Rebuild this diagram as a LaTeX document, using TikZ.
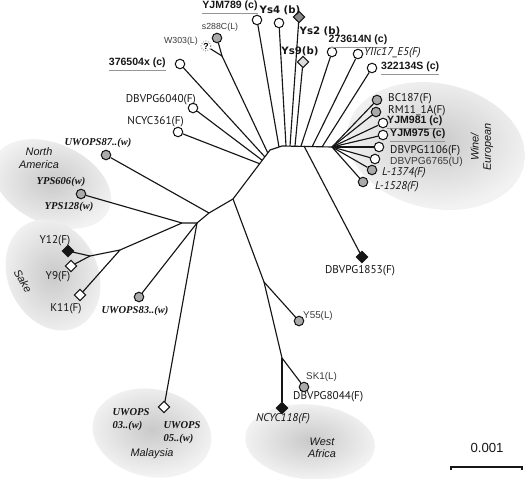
\documentclass[tikz,border=0pt]{standalone}
\usepackage{fontspec}
\setmainfont{Liberation Sans}
\newfontfamily\wildfont{Liberation Serif}
\newfontfamily\fermfont{PT Sans}
\newfontfamily\heavyfont{DejaVu Sans}
\usetikzlibrary{shapes.geometric,calc}
\definecolor{ink}{HTML}{161616}
\definecolor{leafGray}{HTML}{AAAAAA}
\definecolor{ysDark}{HTML}{8A8A8A}
\definecolor{ysLight}{HTML}{DCDCDC}
\newcommand{\accn}[1]{\textcolor{ink!45}{\underline{\textcolor{ink}{#1}}}}
\tikzset{
  leaf/.style={circle, draw=ink, line width=0.6pt, minimum size=1.9mm, inner sep=0pt, fill=white},
  gleaf/.style={leaf, fill=leafGray},
  gem/.style={diamond, draw=ink, line width=0.6pt, minimum size=2.3mm, inner sep=0pt, fill=white},
  lblC/.style={font=\fontsize{6}{7}\selectfont\bfseries, text=ink, inner sep=0.5pt},
  lblB/.style={font=\heavyfont\fontsize{5.8}{7}\selectfont\bfseries, text=ink, inner sep=0.5pt},
  lblF/.style={font=\fermfont\fontsize{6.4}{7.5}\selectfont, text=ink, inner sep=0.5pt},
  lblL/.style={font=\fontsize{5}{6}\selectfont, text=ink!85, inner sep=0.5pt},
  lblW/.style={font=\wildfont\fontsize{6}{7.5}\selectfont\bfseries\itshape, text=ink, inner sep=0.5pt, align=left},
}

\begin{document}
\begin{tikzpicture}[x=0.2mm, y=-0.2mm,
  br/.style={ink, line width=0.65pt},
  zone/.style={ellipse, inner sep=0pt, inner color=black!21, outer color=black!5},
  ztxt/.style={font=\fontsize{6.2}{7}\selectfont\itshape, text=ink, align=center, inner sep=0.5pt}]
\useasboundingbox (0,0) rectangle (525,479);
\node[zone, minimum width=36mm, minimum height=25mm, rotate=-12] (wine) at (436,146) {};
\node[zone, minimum width=25mm, minimum height=16mm, rotate=-25] (namer) at (52,184) {};
\node[zone, minimum width=18mm, minimum height=23mm, rotate=25] (sake) at (53,275) {};
\node[zone, minimum width=24mm, minimum height=17.5mm, rotate=-12] (malay) at (152,433) {};
\node[zone, minimum width=26mm, minimum height=15mm, rotate=-5] (wafr) at (310,442) {};
\node[ztxt, rotate=90] (tWine) at (482,147) {Wine/\\European};
\node[ztxt] (tNamer) at (39,158) {North\\America};
\node[ztxt, rotate=-60] (tSake) at (23,281) {Sake};
\node[ztxt] (tMalay) at (152,454) {Malaysia};
\node[ztxt] (tWafr) at (322,448) {West\\Africa};

\coordinate (hubL) at (270,150);
\coordinate (hubT) at (282,146);
\coordinate (hubW) at (332,147);
\coordinate (jD) at (233,199);
\coordinate (jC) at (209,213);
\coordinate (jB) at (197,223);
\coordinate (jA) at (182,223);
\coordinate (jF) at (120,250);
\coordinate (jE) at (90,256);
\coordinate (jS) at (222,56);
\coordinate (jG) at (264,282);
\coordinate (jH) at (282,358);
\coordinate (bS) at ($(hubL)!0.06!(jD)$);
\coordinate (b376) at ($(hubL)!0.14!(jD)$);
\coordinate (b6040) at ($(hubL)!0.21!(jD)$);
\coordinate (b361) at ($(hubL)!0.28!(jD)$);
\coordinate (b789) at (279,147);
\coordinate (bYs4) at (286,146);
\coordinate (bYs2) at (290,146);
\coordinate (bYs9) at (295,146);
\coordinate (b2736) at (301,146);
\coordinate (b1853) at (304,146);
\coordinate (bYIIc) at (312,147);
\coordinate (b3221) at (322,147);

% leaves
\node[leaf] (yjm789) at (257,20) {};
\node[leaf] (ys4) at (279,23) {};
\node[gem, fill=ysDark] (ys2) at (299,17) {};
\node[gem, fill=ysLight] (ys9) at (303,62) {};
\node[leaf] (n273614) at (332,52) {};
\node[leaf] (yiic) at (358,54) {};
\node[leaf] (n322134) at (372,68) {};
\node[gleaf] (bc187) at (377,100) {};
\node[gleaf] (rm11) at (376,112) {};
\node[leaf] (yjm981) at (383,123) {};
\node[leaf] (yjm975) at (383,135) {};
\node[leaf] (dbv1106) at (379,147) {};
\node[leaf] (dbv6765) at (375,159) {};
\node[gleaf] (l1374) at (372,170) {};
\node[gleaf] (l1528) at (363,182) {};
\node[gem, fill=ink] (dbv1853) at (362,257) {};
\node[gleaf] (s288c) at (217,38) {};
\node[circle, draw=ink!80, densely dotted, fill=white, minimum size=2mm, inner sep=0pt,
  font=\fontsize{5}{5}\selectfont\bfseries] (w303) at (206,46) {?};
\node[leaf] (n376504) at (180,64) {};
\node[leaf] (dbv6040) at (193,108) {};
\node[leaf] (ncyc361) at (178,132) {};
\node[gleaf] (uwops87) at (106,155) {};
\node[gleaf] (yps) at (81,194) {};
\node[gem, fill=ink] (y12) at (68,251) {};
\node[gem] (y9) at (71,266) {};
\node[gem] (k11) at (80,295) {};
\node[gleaf] (uwops83) at (139,297) {};
\node[gem] (uwopsMy) at (164,407) {};
\node[gleaf] (y55) at (299,321) {};
\node[gleaf] (sk1) at (304,387) {};
\node[gem, fill=ink] (ncyc118) at (282,408) {};

% labels
\node[lblC] (tYJM789) at (230,8) {\accn{YJM789 (c)}};
\node[lblB] (tYs4) at (280,10) {Ys4 (b)};
\node[lblB] (tYs2) at (320,31) {Ys2 (b)};
\node[lblB] (tYs9) at (300,51) {Ys9(b)};
\node[lblC] (t273614) at (358,42) {\accn{273614N (c)}};
\node[lblF, anchor=west] (tYIIc) at (363,53) {\itshape YIIc17\_E5(F)};
\node[lblC, anchor=west] (t322134) at (380,69) {\accn{322134S (c)}};
\node[lblF, anchor=west] (tBC187) at (387,99) {BC187(F)};
\node[lblF, anchor=west] (tRM11) at (387,111) {RM11\_1A(F)};
\node[lblC, anchor=west] (tYJM981) at (386,123) {\accn{YJM981 (c)}};
\node[lblC, anchor=west] (tYJM975) at (389,136) {\accn{YJM975 (c)}};
\node[lblF, anchor=west] (t1106) at (389,151) {DBVPG1106(F)};
\node[lblL, font=\fontsize{5.8}{7}\selectfont, anchor=west] (t6765) at (389,162) {DBVPG6765(U)};
\node[lblF, anchor=west] (tL1374) at (381,173) {\itshape L-1374(F)};
\node[lblF, anchor=west] (tL1528) at (374,187) {\itshape L-1528(F)};
\node[lblF] (t1853) at (360,271) {DBVPG1853(F)};
\node[lblL] (tS288c) at (220,27) {s288C(L)};
\node[lblL, anchor=east] (tW303) at (199,41) {W303(L)};
\node[lblC, anchor=east] (t376504) at (167,65) {\accn{376504x (c)}};
\node[lblF, anchor=east] (t6040) at (197,100) {DBVPG6040(F)};
\node[lblF, anchor=east] (t361) at (185,122) {NCYC361(F)};
\node[lblW] (tUW87) at (98,143) {UWOPS87..(w)};
\node[lblW] (tYPS606) at (61,182) {YPS606(w)};
\node[lblW] (tYPS128) at (69,207) {YPS128(w)};
\node[lblF] (tY12) at (55,241) {Y12(F)};
\node[lblF] (tY9) at (58,277) {Y9(F)};
\node[lblF] (tK11) at (66,309) {K11(F)};
\node[lblW] (tUW83) at (135,311) {UWOPS83..(w)};
\node[lblW] (tUW03) at (131,420) {UWOPS\\03..(w)};
\node[lblW] (tUW05) at (182,433) {UWOPS\\05..(w)};
\node[lblL, font=\fontsize{5.6}{7}\selectfont, anchor=west] (tY55) at (302,316) {Y55(L)};
\node[lblL, font=\fontsize{5.6}{7}\selectfont, anchor=west] (tSK1) at (305,377) {SK1(L)};
\node[lblF, anchor=west] (t8044) at (292,397) {DBVPG8044(F)};
\node[lblF, anchor=east] (t118) at (311,419) {\itshape NCYC118(F)};

% branches
\draw[br] (jD) -- (hubL) -- (hubT) -- (hubW);
\draw[br] (jD) -- (jC) -- (jB) -- (jA) -- (jF) -- (jE);
\draw[br] (jD) -- (jG) -- (jH);
\draw[br] (bS) -- (jS);
\draw[br] (jS) -- (s288c); \draw[br] (jS) -- (w303);
\draw[br] (b376) -- (n376504); \draw[br] (b6040) -- (dbv6040); \draw[br] (b361) -- (ncyc361);
\draw[br] (b789) -- (yjm789); \draw[br] (bYs4) -- (ys4); \draw[br] (bYs2) -- (ys2);
\draw[br] (bYs9) -- (ys9); \draw[br] (b2736) -- (n273614); \draw[br] (bYIIc) -- (yiic);
\draw[br] (b3221) -- (n322134); \draw[br] (b1853) -- (dbv1853);
\foreach \w in {bc187,rm11,yjm981,yjm975,dbv1106,dbv6765,l1374,l1528}
  \draw[br] (hubW) -- (\w);
\draw[br] (jC) -- (uwops87);
\draw[br] (jB) -- (uwops83); \draw[br] (jB) -- (uwopsMy);
\draw[br] (jA) -- (yps);
\draw[br] (jE) -- (y12); \draw[br] (jE) -- (y9); \draw[br] (jF) -- (k11);
\draw[br] (jG) -- (y55); \draw[br] (jH) -- (sk1); \draw[br] (jH) -- (ncyc118);

% scale
\coordinate (barL) at (451,467);
\coordinate (barR) at (522,467);
\draw[ink, line width=0.8pt] (barL) ++(0,3) -- (barL) -- (barR) -- ++(0,3);
\node[font=\fontsize{7.5}{9}\selectfont, text=ink] (tScale) at (487,448) {0.001};
\end{tikzpicture}
\end{document}
